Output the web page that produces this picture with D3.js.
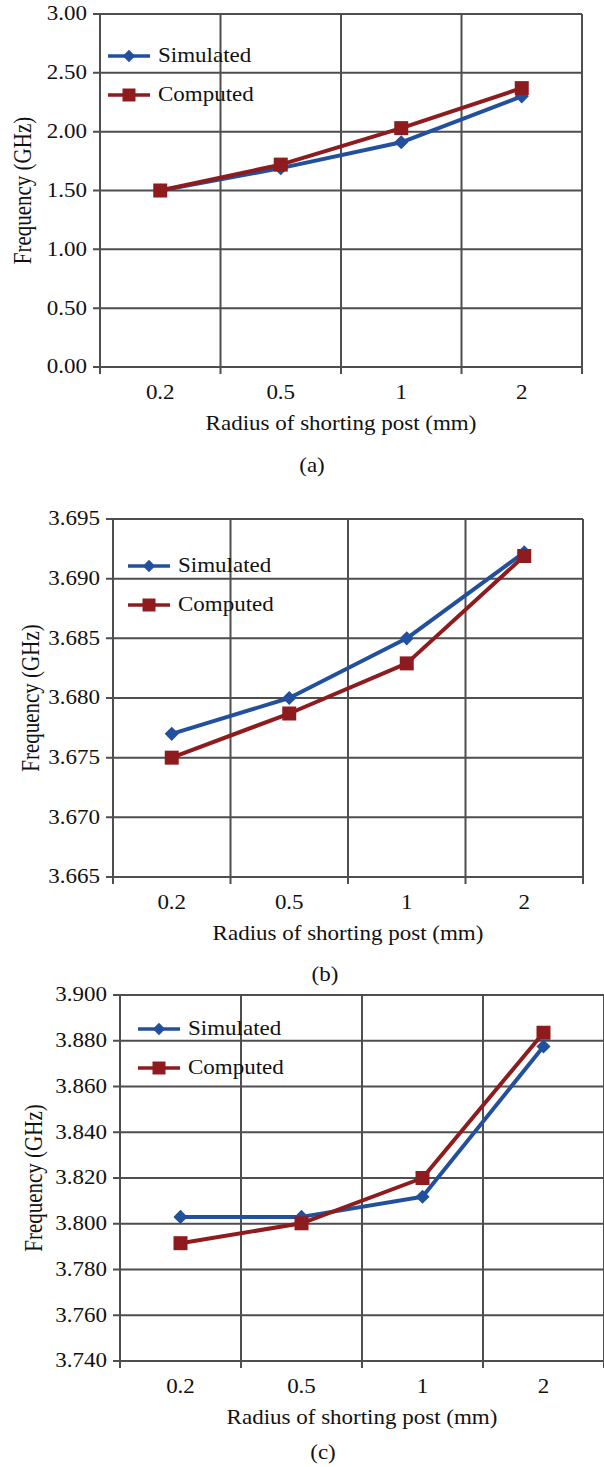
<!DOCTYPE html>
<html>
<head>
<meta charset="utf-8">
<script src="https://cdn.jsdelivr.net/npm/d3@7"></script>
<style>
  html, body { margin: 0; padding: 0; background: #fff; }
  svg { display: block; }
  text { font-family: "Liberation Serif", "Times New Roman", serif; fill: #111; }
</style>
</head>
<body>
<script>
// ---------- data ----------
const categories = ["0.2", "0.5", "1", "2"];
const seriesNames = ["Simulated", "Computed"];

const simA  = [1.50, 1.69, 1.91, 2.30];
const compA = [1.50, 1.72, 2.03, 2.37];
const ticksA = [0.00, 0.50, 1.00, 1.50, 2.00, 2.50, 3.00];

const simB  = [3.6770, 3.6800, 3.6850, 3.6922];
const compB = [3.6750, 3.6787, 3.6829, 3.6919];
const ticksB = [3.665, 3.670, 3.675, 3.680, 3.685, 3.690, 3.695];

const simC  = [3.8030, 3.8030, 3.8118, 3.8775];
const compC = [3.7915, 3.8002, 3.8200, 3.8835];
const ticksC = [3.740, 3.760, 3.780, 3.800, 3.820, 3.840, 3.860, 3.880, 3.900];

const xTitle = "Radius of shorting post (mm)";
const yTitle = "Frequency (GHz)";
const captions = ["(a)", "(b)", "(c)"];

// ---------- layout ----------
const W = 604, H = 1467;
const BLUE = "#22509c", RED = "#8e1b1e", GRID = "#4e4e4e";
const SX = 1.15;     // horizontal stretch of the source figure's text
const FS = 20;

const panels = [
  { left: 100, right: 582, top: 14,  bottom: 367,  ticks: ticksA, fmt: ".2f", sim: simA, comp: compA,
    legX: 108, legY: 56, capX: 312, capY: 466, yLabX: 23 },
  { left: 113, right: 583, top: 519, bottom: 877,  ticks: ticksB, fmt: ".3f", sim: simB, comp: compB,
    legX: 128, legY: 566, capX: 325, capY: 975, yLabX: 31 },
  { left: 120, right: 604, top: 995, bottom: 1361, ticks: ticksC, fmt: ".3f", sim: simC, comp: compC,
    legX: 138, legY: 1029, capX: 323, capY: 1453, yLabX: 34 }
];

const svg = d3.select("body").append("svg").attr("width", W).attr("height", H);

function stretchedText(g, x, y, str, opts = {}) {
  const t = g.append("g").attr("transform", `translate(${x},${y}) scale(${SX},1)` + (opts.rotate ? ` rotate(${opts.rotate})` : ""))
    .append("text")
    .attr("font-size", opts.size || FS)
    .attr("text-anchor", opts.anchor || "start")
    .attr("dominant-baseline", "central")
    .text(str);
  return t;
}

function diamond(g, cx, cy, r, color) {
  g.append("path")
    .attr("d", d3.symbol().type(d3.symbolDiamond2).size(r * r * 2)())
    .attr("transform", `translate(${cx},${cy})`)
    .attr("fill", color);
}
function square(g, cx, cy, s, color) {
  g.append("path")
    .attr("d", d3.symbol().type(d3.symbolSquare).size(s * s)())
    .attr("transform", `translate(${cx},${cy})`)
    .attr("fill", color);
}

panels.forEach((p, i) => {
  const g = svg.append("g");
  const x = d3.scaleBand().domain(categories).range([p.left, p.right]).padding(0);
  const y = d3.scaleLinear().domain(d3.extent(p.ticks)).range([p.bottom, p.top]);
  const fmt = d3.format(p.fmt);

  // horizontal gridlines (+ ticks left of the axis)
  g.append("g").selectAll("line").data(p.ticks).join("line")
    .attr("x1", p.left - 7).attr("x2", p.right)
    .attr("y1", d => y(d)).attr("y2", d => y(d))
    .attr("stroke", GRID).attr("stroke-width", 2);

  // vertical gridlines at category boundaries (+ ticks below the axis)
  const bounds = categories.map(c => x(c)).concat([p.right]);
  g.append("g").selectAll("line").data(bounds).join("line")
    .attr("x1", d => d).attr("x2", d => d)
    .attr("y1", p.top).attr("y2", p.bottom + 7)
    .attr("stroke", GRID).attr("stroke-width", 2);

  // y tick labels
  p.ticks.forEach(t => {
    stretchedText(g, p.left - 13, y(t), fmt(t), { anchor: "end" });
  });

  // x tick labels
  categories.forEach(c => {
    stretchedText(g, x(c) + x.bandwidth() / 2, p.bottom + 26, c, { anchor: "middle" });
  });

  // axis titles
  stretchedText(g, (p.left + p.right) / 2, p.bottom + 57, xTitle, { anchor: "middle" });
  stretchedText(g, p.yLabX, (p.top + p.bottom) / 2, yTitle, { anchor: "middle", rotate: -90, size: 21 });

  // caption
  stretchedText(g, p.capX, p.capY, captions[i], { anchor: "middle" });

  // series lines
  const line = d3.line().x((d, j) => x(categories[j]) + x.bandwidth() / 2).y(d => y(d));
  g.append("path").datum(p.sim).attr("d", line)
    .attr("fill", "none").attr("stroke", BLUE).attr("stroke-width", 4).attr("stroke-linejoin", "round");
  p.sim.forEach((v, j) => diamond(g, x(categories[j]) + x.bandwidth() / 2, y(v), 8, BLUE));
  g.append("path").datum(p.comp).attr("d", line)
    .attr("fill", "none").attr("stroke", RED).attr("stroke-width", 4).attr("stroke-linejoin", "round");
  p.comp.forEach((v, j) => square(g, x(categories[j]) + x.bandwidth() / 2, y(v), 14, RED));

  // legend
  const lg = g.append("g").attr("class", "legend");
  const colors = [BLUE, RED];
  seriesNames.forEach((name, k) => {
    const ly = p.legY + k * 39;
    lg.append("line").attr("x1", p.legX).attr("x2", p.legX + 42)
      .attr("y1", ly).attr("y2", ly).attr("stroke", colors[k]).attr("stroke-width", 3.5);
    if (k === 0) diamond(lg, p.legX + 21, ly, 7, colors[k]);
    else square(lg, p.legX + 21, ly, 13, colors[k]);
    stretchedText(lg, p.legX + 50, ly, name, { anchor: "start" });
  });
});
</script>
</body>
</html>
